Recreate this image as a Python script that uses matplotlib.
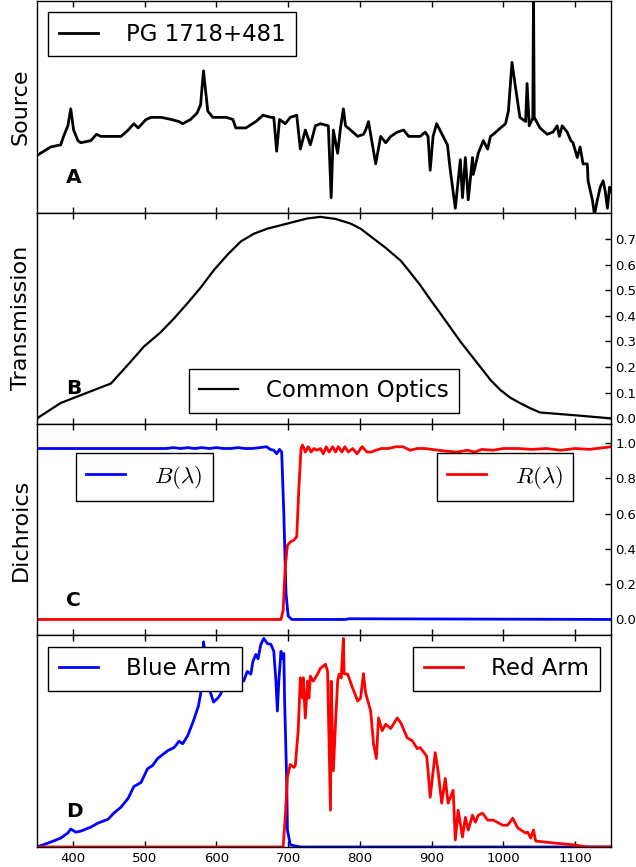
import numpy as np
import matplotlib
matplotlib.use('Agg')
import matplotlib.pyplot as plt

plt.rcParams['mathtext.fontset'] = 'cm'
plt.rcParams['axes.linewidth'] = 1.0

# --- painel A: espectro da fonte (fluxo arbitrário) ---
src_wl = [350, 369, 383, 387, 393, 397, 401, 407, 411, 425, 433, 439, 453, 467, 477, 485,
          491, 502, 509, 523, 537, 548, 553, 564, 573, 578, 582, 588, 595, 606, 614, 623,
          627, 641, 655, 665, 676, 680, 684, 688, 696, 703, 712, 717, 724, 731, 738, 745,
          756, 760, 763, 769, 773, 777, 780, 787, 797, 805, 808, 812, 818, 822, 829, 836,
          843, 852, 861, 868, 875, 884, 891, 895, 898, 902, 907, 916, 922, 926, 933, 940,
          943, 947, 951, 957, 958, 965, 972, 978, 982, 986, 996, 1003, 1007, 1012, 1017, 1023,
          1031, 1033, 1036, 1040, 1041, 1042, 1043, 1051, 1061, 1069, 1075, 1078, 1082, 1089, 1094, 1097,
          1103, 1107, 1111, 1117, 1118, 1124, 1127, 1131, 1135, 1139, 1142, 1145, 1148, 1150]
src_flux = [0.27, 0.31, 0.32, 0.36, 0.41, 0.49, 0.39, 0.34, 0.33, 0.34, 0.37, 0.36, 0.36, 0.36, 0.39, 0.42,
            0.40, 0.44, 0.45, 0.45, 0.44, 0.43, 0.42, 0.44, 0.47, 0.51, 0.67, 0.48, 0.45, 0.45, 0.45, 0.44,
            0.40, 0.40, 0.43, 0.46, 0.45, 0.45, 0.29, 0.44, 0.42, 0.45, 0.46, 0.30, 0.39, 0.32, 0.41, 0.42,
            0.41, 0.07, 0.39, 0.28, 0.40, 0.49, 0.41, 0.39, 0.36, 0.37, 0.39, 0.43, 0.31, 0.23, 0.36, 0.33,
            0.36, 0.38, 0.39, 0.36, 0.36, 0.36, 0.38, 0.36, 0.20, 0.36, 0.42, 0.36, 0.32, 0.20, 0.02, 0.25,
            0.07, 0.26, 0.06, 0.26, 0.18, 0.28, 0.34, 0.30, 0.36, 0.37, 0.40, 0.42, 0.48, 0.71, 0.59, 0.45,
            0.43, 0.61, 0.41, 0.44, 0.44, 1.05, 0.45, 0.40, 0.37, 0.38, 0.41, 0.36, 0.41, 0.38, 0.34, 0.33,
            0.26, 0.31, 0.23, 0.23, 0.15, 0.06, -0.01, 0.06, 0.12, 0.15, 0.10, 0.02, 0.12, 0.10]

# --- painel B: transmissão da óptica comum ---
opt_wl = [350, 383, 453, 477, 499, 522, 541, 560, 578, 597, 616, 634, 652, 671, 699, 727,
          745, 766, 787, 801, 815, 836, 857, 870, 884, 899, 912, 926, 940, 954, 968, 982,
          996, 1010, 1023, 1037, 1051, 1100, 1150]
opt_trans = [0.0, 0.06, 0.136, 0.21, 0.28, 0.335, 0.39, 0.45, 0.51, 0.58, 0.64, 0.69, 0.72, 0.74, 0.76, 0.78,
             0.786, 0.778, 0.76, 0.74, 0.71, 0.665, 0.615, 0.57, 0.52, 0.46, 0.41, 0.355, 0.30, 0.25, 0.20, 0.15,
             0.11, 0.08, 0.06, 0.04, 0.023, 0.012, 0.0]

# --- painel C: curvas dos dicroicos ---
dich_b_wl = [350, 530, 540, 550, 560, 570, 580, 590, 600, 610, 620, 630, 640, 650, 660, 670,
             675, 680, 684, 688, 691, 694, 697, 700, 705, 780, 785, 1150]
dich_b = [0.97, 0.97, 0.975, 0.97, 0.975, 0.97, 0.975, 0.97, 0.975, 0.97, 0.97, 0.975, 0.97, 0.97, 0.975, 0.98,
          0.965, 0.96, 0.94, 0.965, 0.95, 0.6, 0.15, 0.02, 0.0, 0.0, 0.004, 0.0]
dich_r_wl = [350, 690, 693, 696, 699, 703, 708, 712, 715, 718, 720, 724, 728, 732, 736, 740,
             745, 749, 753, 757, 762, 766, 770, 775, 779, 784, 790, 796, 803, 810, 816, 822,
             830, 840, 850, 860, 870, 880, 890, 900, 910, 920, 935, 950, 960, 970, 985, 1000,
             1020, 1040, 1060, 1080, 1100, 1120, 1150]
dich_r = [0.0, 0.0, 0.05, 0.3, 0.42, 0.44, 0.45, 0.47, 0.75, 0.97, 0.99, 0.95, 0.98, 0.95, 0.97, 0.96,
          0.97, 0.94, 0.98, 0.95, 0.98, 0.95, 0.98, 0.95, 0.98, 0.95, 0.97, 0.94, 0.98, 0.95, 0.95, 0.96,
          0.97, 0.97, 0.98, 0.98, 0.96, 0.97, 0.97, 0.965, 0.96, 0.955, 0.95, 0.96, 0.95, 0.965, 0.96, 0.97,
          0.97, 0.965, 0.97, 0.96, 0.97, 0.965, 0.98]

# --- painel D: throughput de cada braço (unidades arbitrárias) ---
blue_wl = [350, 369, 383, 393, 397, 404, 411, 425, 435, 449, 457, 467, 477, 485, 495, 504,
           511, 518, 532, 541, 548, 553, 560, 568, 575, 578, 581, 582, 584, 588, 596, 602,
           606, 610, 620, 630, 638, 643, 648, 651, 655, 658, 662, 666, 671, 676, 680, 683,
           685, 687, 690, 692, 694, 695, 698, 699, 703, 717, 1150]
blue_arm = [0.0, 0.023, 0.042, 0.066, 0.085, 0.07, 0.075, 0.094, 0.113, 0.131, 0.16, 0.188, 0.23, 0.286, 0.305, 0.37,
            0.385, 0.418, 0.455, 0.47, 0.50, 0.488, 0.526, 0.596, 0.667, 0.723, 0.864, 0.97, 0.925, 0.77, 0.685, 0.704,
            0.723, 0.76, 0.80, 0.82, 0.784, 0.83, 0.817, 0.878, 0.91, 0.89, 0.958, 0.986, 0.962, 0.958, 0.925, 0.784,
            0.643, 0.784, 0.925, 0.892, 0.915, 0.704, 0.315, 0.08, 0.01, 0.0, 0.0]
red_wl = [350, 693, 696, 699, 703, 708, 710, 714, 717, 720, 721, 724, 727, 729, 731, 735,
          741, 745, 752, 755, 759, 760, 763, 766, 769, 771, 774, 777, 778, 783, 790, 797,
          801, 805, 808, 815, 819, 823, 826, 831, 836, 843, 852, 857, 866, 873, 880, 884,
          893, 895, 898, 905, 909, 914, 919, 923, 930, 933, 937, 943, 947, 951, 957, 961,
          965, 971, 978, 986, 999, 1006, 1013, 1020, 1031, 1034, 1038, 1042, 1045, 1070, 1098, 1117, 1150]
red_arm = [0.0, 0.0, 0.14, 0.33, 0.39, 0.376, 0.385, 0.55, 0.80, 0.704, 0.80, 0.61, 0.784, 0.704, 0.808, 0.784,
           0.817, 0.845, 0.864, 0.83, 0.174, 0.784, 0.36, 0.58, 0.784, 0.817, 0.80, 0.986, 0.82, 0.817, 0.75, 0.69,
           0.704, 0.82, 0.728, 0.643, 0.488, 0.418, 0.61, 0.55, 0.58, 0.56, 0.61, 0.587, 0.516, 0.502, 0.465, 0.47,
           0.43, 0.36, 0.235, 0.446, 0.36, 0.207, 0.324, 0.207, 0.268, 0.033, 0.174, 0.047, 0.14, 0.08, 0.15, 0.117,
           0.15, 0.16, 0.127, 0.127, 0.103, 0.103, 0.136, 0.09, 0.066, 0.07, 0.042, 0.08, 0.028, 0.019, 0.01, 0.0, 0.0]

xticks = [400, 500, 600, 700, 800, 900, 1000, 1100]

estilo_legenda = dict(fancybox=False, edgecolor='black', framealpha=1, fontsize=16.5,
                      handlelength=1.7, handletextpad=1.25, borderpad=0.45, borderaxespad=0.5)

fig, (ax_a, ax_b, ax_c, ax_d) = plt.subplots(4, 1, sharex=True, figsize=(6.36, 8.67), dpi=100)
fig.subplots_adjust(left=0.0582, right=0.9607, top=0.9988, bottom=0.0231, hspace=0)

ax_a.plot(src_wl, src_flux, color='black', linewidth=2, label='PG 1718+481')
ax_a.set_ylim(0, 1)
ax_a.legend(loc='upper left', **estilo_legenda)

ax_b.plot(opt_wl, opt_trans, color='black', linewidth=1.6, label='Common Optics')
ax_b.set_ylim(-0.022, 0.803)
ax_b.set_yticks(np.arange(0, 0.75, 0.1))
ax_b.legend(loc='lower center', **estilo_legenda)

ax_c.plot(dich_b_wl, dich_b, color='blue', linewidth=2, label=r'$B(\lambda)$')
ax_c.plot(dich_r_wl, dich_r, color='red', linewidth=2, label=r'$R(\lambda)$')
ax_c.set_ylim(-0.091, 1.109)
ax_c.set_yticks(np.arange(0, 1.05, 0.2))
h_c, l_c = ax_c.get_legend_handles_labels()
leg_b = ax_c.legend([h_c[0]], [l_c[0]], loc='upper left', bbox_to_anchor=(0.068, 0.862),
                    **{**estilo_legenda, 'borderaxespad': 0})
ax_c.add_artist(leg_b)
ax_c.legend([h_c[1]], [l_c[1]], loc='upper right', bbox_to_anchor=(0.934, 0.862),
            **{**estilo_legenda, 'borderaxespad': 0})

ax_d.plot(blue_wl, blue_arm, color='blue', linewidth=2, label='Blue Arm')
ax_d.plot(red_wl, red_arm, color='red', linewidth=2, label='Red Arm')
ax_d.set_ylim(0, 1)
h_d, l_d = ax_d.get_legend_handles_labels()
leg_blue = ax_d.legend([h_d[0]], [l_d[0]], loc='upper left', **estilo_legenda)
ax_d.add_artist(leg_blue)
ax_d.legend([h_d[1]], [l_d[1]], loc='upper right', **estilo_legenda)

for ax, rotulo, letra in [(ax_a, 'Source', 'A'), (ax_b, 'Transmission', 'B'),
                          (ax_c, 'Dichroics', 'C'), (ax_d, '', 'D')]:
    ax.set_xlim(350, 1150)
    ax.set_xticks(xticks)
    ax.tick_params(axis='x', direction='in', top=True, bottom=True, length=4, width=1,
                   labelsize=9.5)
    if rotulo:
        ax.set_ylabel(rotulo, fontsize=16)
        ax.yaxis.set_label_coords(-0.011, 0.5)
    ax.text(0.05, 0.14, letra, transform=ax.transAxes, fontsize=14.5, fontweight='bold')

for ax in (ax_a, ax_d):
    ax.set_yticks([])

for ax in (ax_b, ax_c):
    ax.yaxis.tick_right()
    ax.yaxis.set_major_formatter(matplotlib.ticker.FormatStrFormatter('%.1f'))
    ax.tick_params(axis='y', direction='in', length=4, width=1, labelsize=9.5, pad=3)

plt.savefig('out.png', dpi=100, facecolor='white')
